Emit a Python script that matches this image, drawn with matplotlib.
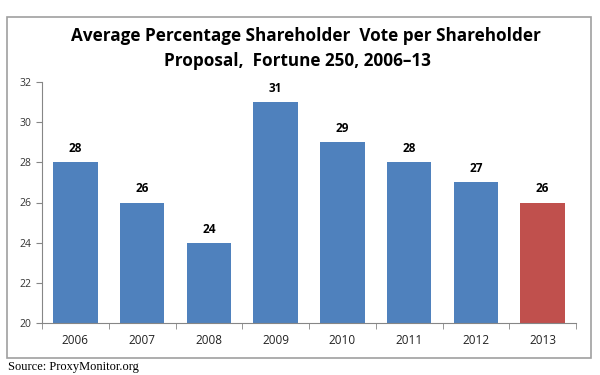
import matplotlib.pyplot as plt
from matplotlib.patches import Rectangle

years = ["2006", "2007", "2008", "2009", "2010", "2011", "2012", "2013"]
votes = [28, 26, 24, 31, 29, 28, 27, 26]
colors = ["#4F81BD"] * 7 + ["#C0504D"]

plt.rcParams['font.family'] = ['Open Sans', 'DejaVu Sans']

fig = plt.figure(figsize=(6, 3.75), dpi=100)
ax = fig.add_axes([42 / 600, 1 - 323 / 375, (576 - 42) / 600, (323 - 82) / 375])

x = range(len(years))
ax.bar(x, votes, width=0.67, color=colors, bottom=0)
for i, v in enumerate(votes):
    ax.text(i, v + 0.35, str(v), ha='center', va='bottom', fontsize=8.5, fontweight='bold')

ax.set_xlim(-0.5, len(years) - 0.5)
ax.set_ylim(20, 32)
ax.set_yticks(range(20, 33, 2))
ax.tick_params(axis='y', labelsize=7.5, length=4, color='#868686', colors='#333333')
ax.set_xticks(x)
ax.set_xticklabels(years, fontsize=8.5, color='#222222')
ax.set_xticks([i - 0.5 for i in range(len(years) + 1)], minor=True)
ax.tick_params(axis='x', which='major', length=0, pad=8)
ax.tick_params(axis='x', which='minor', length=4, color='#868686', direction='out')
for s in ['top', 'right']:
    ax.spines[s].set_visible(False)
for s in ['left', 'bottom']:
    ax.spines[s].set_color('#868686')

fig.add_artist(Rectangle((7 / 600, 1 - 358 / 375), (591 - 7) / 600, (358 - 17) / 375,
                         transform=fig.transFigure, fill=False, edgecolor='#a0a0a0', linewidth=1.2))

fig.text(0.51, 1 - 36 / 375, "Average Percentage Shareholder  Vote per Shareholder",
         ha='center', va='center', fontsize=12.3, fontweight='bold')
fig.text(0.495, 1 - 61 / 375, "Proposal,  Fortune 250, 2006\u201313",
         ha='center', va='center', fontsize=12.3, fontweight='bold')
fig.text(8 / 600, 1 - 367 / 375, "Source: ProxyMonitor.org", ha='left', va='center',
         fontsize=9, family=['Liberation Serif', 'DejaVu Serif'])

fig.savefig("out.png", dpi=100)
